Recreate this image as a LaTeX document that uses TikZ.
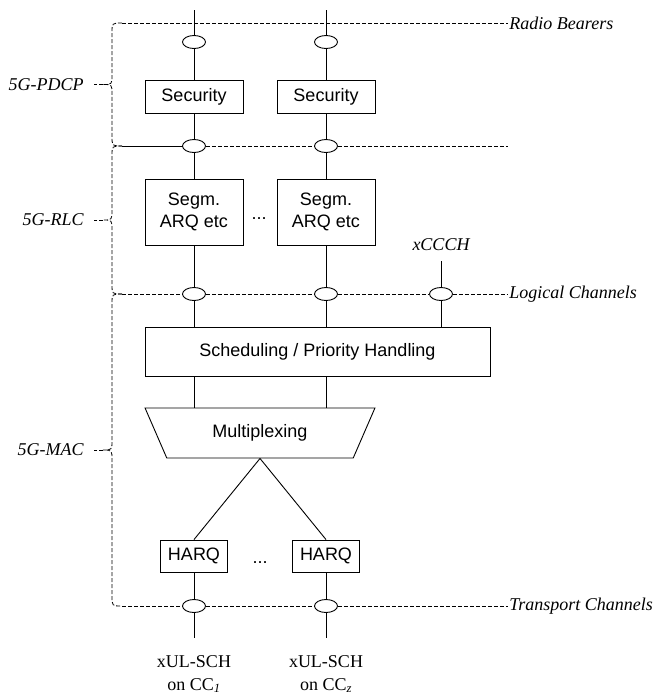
\documentclass[tikz,border=0pt]{standalone}
\usepackage{fontspec}
\setmainfont{Liberation Serif}
\setsansfont{Liberation Sans}
\usetikzlibrary{shapes.geometric}

\begin{document}
\begin{tikzpicture}[x=1pt, y=-1pt, line width=0.9pt]
    % Styles
    \tikzstyle{block} = [rectangle, draw=black, inner sep=0pt, minimum width=98pt, minimum height=33pt, align=center, font=\sffamily\fontsize{18}{22}\selectfont]
    \tikzstyle{sap} = [ellipse, draw=black, fill=white, minimum width=23pt, minimum height=13pt, inner sep=0pt]
    \tikzstyle{layer} = [dash pattern=on 4pt off 2pt, line width=0.8pt]
    \tikzstyle{tag} = [font=\itshape\fontsize{18}{22}\selectfont, inner sep=1pt]
    \tikzstyle{chan} = [font=\fontsize{18}{23}\selectfont, align=center, inner sep=0pt]
    \tikzstyle{gap} = [font=\sffamily\fontsize{18}{22}\selectfont, inner sep=0pt]

    \useasboundingbox (0,0) rectangle (660,694);

    % PDCP
    \node (sec1) [block] at (194,96.5) {Security};
    \node (sec2) [block] at (326,96.5) {Security};

    % RLC
    \node (seg1) [block, minimum height=66pt] at (194,212) {Segm.\\ARQ etc};
    \node (seg2) [block, minimum height=66pt] at (326,212) {Segm.\\ARQ etc};
    \node (rlcdots) [gap, anchor=base] at (259,219) {...};

    % MAC
    \node (sched) [block, minimum width=345pt, minimum height=49pt] at (317.5,351.5) {Scheduling / Priority Handling};
    \node (mux) [block, trapezium, trapezium angle=56.6, shape border rotate=180, trapezium stretches=true, minimum width=230pt, minimum height=50pt] at (260,433) {Multiplexing};
    \node (harq1) [block, minimum width=67pt, minimum height=32pt] at (194,556) {HARQ};
    \node (harq2) [block, minimum width=67pt, minimum height=32pt] at (326,556) {HARQ};
    \node (harqdots) [gap, anchor=base] at (260,563) {...};

    % Access points
    \node (rb1) [sap] at (194,42) {};
    \node (rb2) [sap] at (326,42) {};
    \node (sb1) [sap] at (194,146) {};
    \node (sb2) [sap] at (326,146) {};
    \node (lc1) [sap] at (194,294) {};
    \node (lc2) [sap] at (326,294) {};
    \node (lcx) [sap] at (441,294) {};
    \node (tc1) [sap] at (194,606) {};
    \node (tc2) [sap] at (326,606) {};

    % Channel names
    \node (rb) [tag, anchor=west] at (508,23) {Radio Bearers};
    \node (lc) [tag, anchor=west] at (508,294) {Logical Channels};
    \node (tc) [tag, anchor=west] at (508,606) {Transport Channels};
    \node (xccch) [tag, anchor=base] at (441,250) {xCCCH};
    \node (ul1) [chan, anchor=base] at (194,690) {xUL-SCH\\on CC\textsubscript{\textit{1}}};
    \node (ul2) [chan, anchor=base] at (326,690) {xUL-SCH\\on CC\textsubscript{\textit{z}}};

    % Protocol layers
    \node (pdcp) [tag, anchor=east, inner sep=0pt] at (84,84.5) {5G-PDCP};
    \node (rlc) [tag, anchor=east, inner sep=0pt] at (84,220) {5G-RLC};
    \node (mac) [tag, anchor=east, inner sep=0pt] at (84,450) {5G-MAC};

    \coordinate (top1) at (194,10);
    \coordinate (top2) at (326,10);
    \coordinate (xtop) at (441,261);
    \coordinate (bot1) at (194,638);
    \coordinate (bot2) at (326,638);
    \coordinate (pdcpT) at (122,23);
    \coordinate (rlcT) at (122,146);
    \coordinate (macT) at (122,294);
    \coordinate (macB) at (122,606);
    \coordinate (pr) at (508,146);
    \coordinate (pdcpTip) at (103,84.5);
    \coordinate (rlcTip) at (103,220);
    \coordinate (macTip) at (103,450);

    % Data paths
    \draw (top1) -- (rb1) -- (sec1) -- (sb1) -- (seg1) -- (lc1) -- (lc1 |- sched.north);
    \draw (top2) -- (rb2) -- (sec2) -- (sb2) -- (seg2) -- (lc2) -- (lc2 |- sched.north);
    \draw (xtop) -- (lcx) -- (lcx |- sched.north);
    \draw (sched.south -| lc1) -- (mux.north -| lc1);
    \draw (sched.south -| lc2) -- (mux.north -| lc2);
    \draw (mux.south) -- (harq1.north);
    \draw (mux.south) -- (harq2.north);
    \draw (harq1) -- (tc1) -- (bot1);
    \draw (harq2) -- (tc2) -- (bot2);

    % Layer boundaries
    \draw[layer] (pdcpT) -- (rb);
    \draw[layer] (rlcT) -- (sb1) -- (sb2) -- (pr);
    \draw[layer, dash phase=3pt] (rlcT) -- (sb1);
    \draw[layer] (macT) -- (lc1) -- (lc2) -- (lcx) -- (lc);
    \draw[layer] (macB) -- (tc1) -- (tc2) -- (tc);

    % Braces
    \draw[layer] (pdcpT) .. controls (112,23) .. (112,33) -- (112,75) .. controls (112,84.5) .. (pdcpTip) .. controls (112,84.5) .. (112,94) -- (112,136) .. controls (112,146) .. (rlcT);
    \draw[layer] (rlcT) .. controls (112,146) .. (112,156) -- (112,210) .. controls (112,220) .. (rlcTip) .. controls (112,220) .. (112,230) -- (112,284) .. controls (112,294) .. (macT);
    \draw[layer] (macT) .. controls (112,294) .. (112,304) -- (112,440) .. controls (112,450) .. (macTip) .. controls (112,450) .. (112,460) -- (112,596) .. controls (112,606) .. (macB);
    \draw[layer, shorten >=10pt] (pdcpTip) -- (pdcp.east);
    \draw[layer, shorten >=10pt] (rlcTip) -- (rlc.east);
    \draw[layer, shorten >=10pt] (macTip) -- (mac.east);
\end{tikzpicture}
\end{document}
